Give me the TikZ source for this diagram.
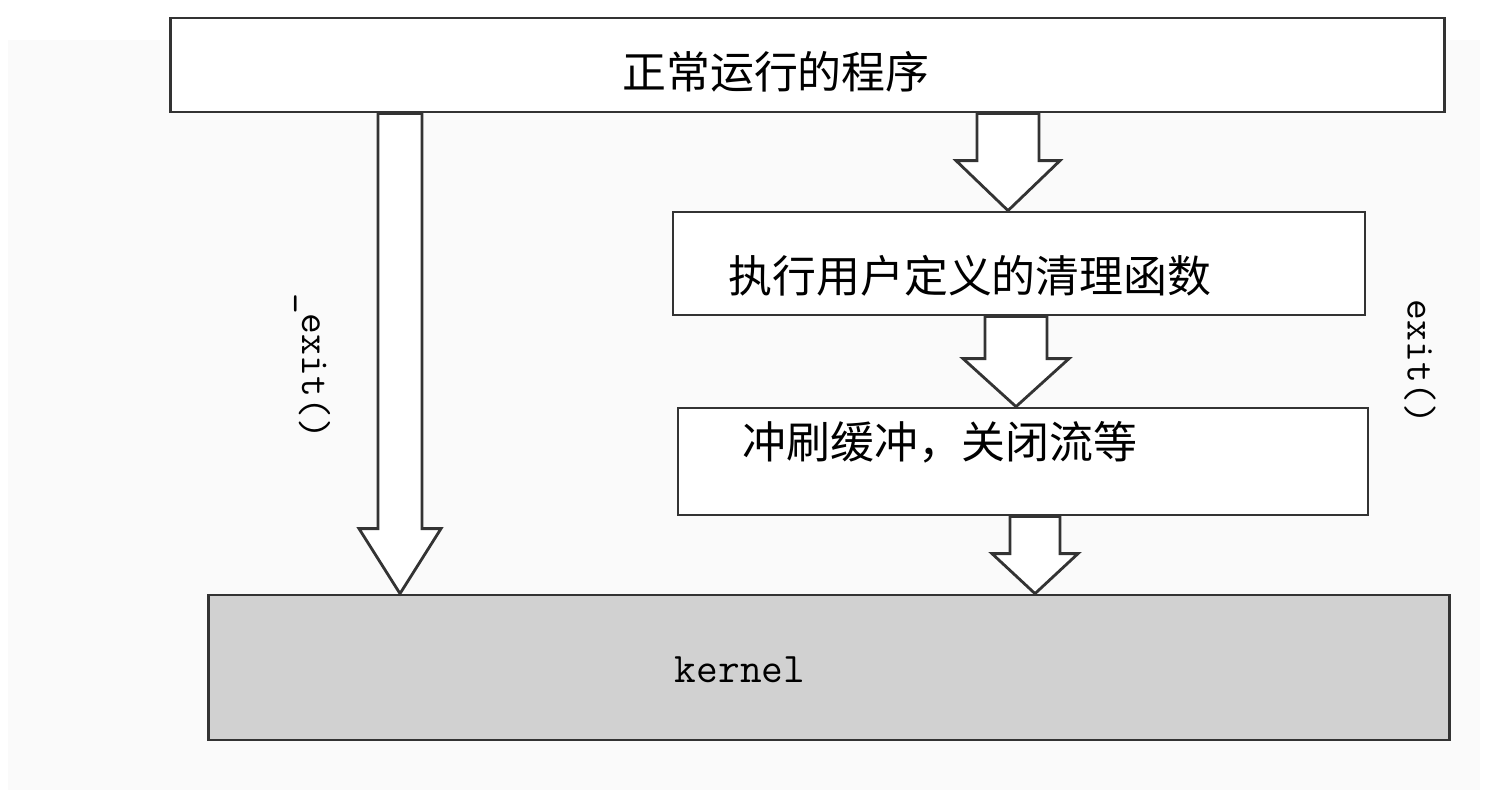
\documentclass[tikz,border=0pt]{standalone}
\usepackage{fontspec}
\setmainfont{Noto Sans CJK SC}
\usetikzlibrary{calc,positioning}

% block arrow from #1 down to #2: shaft half width #3, head half width #4, head length #5
\newcommand{\fatarrow}[5]{%
  \draw[fatarrow] let \p1=(#1), \p2=(#2) in
    (\x1-#3,\y1) -- (\x1+#3,\y1) -- (\x1+#3,\y2+#5) -- (\x1+#4,\y2+#5)
    -- (\x1,\y2) -- (\x1-#4,\y2+#5) -- (\x1-#3,\y2+#5) -- cycle;}

\begin{document}
\begin{tikzpicture}[
    x=0.02cm, y=-0.02cm,
    box/.style={
        rectangle,
        draw=black!80,
        line width=1.6pt,
        fill=white,
        inner sep=0pt
    },
    kernelbox/.style={box, fill=black!18},
    label/.style={font=\fontsize{25}{30}\selectfont, inner sep=0pt},
    codelabel/.style={font=\ttfamily\fontsize{23}{28}\selectfont, inner sep=0pt},
    fatarrow/.style={draw=black!80, line width=1.6pt, fill=white, line join=miter}
]
\useasboundingbox (0,0) rectangle (1493,802);
\fill[black!2] (8,40) rectangle (1480,790);

% ---------------------------------------------------------------- Blocks
\node[box, minimum width=25.5cm, minimum height=1.88cm]  (prog)   at (807.5, 65)  {};
\node[box, minimum width=13.84cm, minimum height=2.06cm] (clean)  at (1019, 263.5) {};
\node[box, minimum width=13.8cm, minimum height=2.14cm]  (flush)  at (1023, 461.5) {};
\node[kernelbox, minimum width=24.84cm, minimum height=2.9cm] (kernel) at (829, 667.5) {};

% ---------------------------------------------------------------- Texts
\node[label] (progtext)  at (776, 72)  {正常运行的程序};
\node[label] (cleantext) at (970, 276) {执行用户定义的清理函数};
\node[label] (flushtext) at (940, 442) {冲刷缓冲，关闭流等};
\node[codelabel, font=\ttfamily\fontsize{24}{28}\selectfont] (kerneltext) at (740, 670) {kernel};

% ---------------------------------------------------------------- Arrows
\coordinate (fast) at (400,0);
\coordinate (slowA) at (1008,0);
\coordinate (slowB) at (1016,0);
\coordinate (slowC) at (1035,0);

\fatarrow{fast |- prog.south}{fast |- kernel.north}{0.44cm}{0.82cm}{1.3cm}
\fatarrow{slowA |- prog.south}{slowA |- clean.north}{0.62cm}{1.04cm}{1.0cm}
\fatarrow{slowB |- clean.south}{slowB |- flush.north}{0.62cm}{1.06cm}{0.96cm}
\fatarrow{slowC |- flush.south}{slowC |- kernel.north}{0.5cm}{0.86cm}{0.8cm}

\node[codelabel, rotate=-90] (fastlabel) at (312, 366) {\_exit()};
\node[codelabel, rotate=-90] (slowlabel) at (1420, 362) {exit()};

\end{tikzpicture}
\end{document}
